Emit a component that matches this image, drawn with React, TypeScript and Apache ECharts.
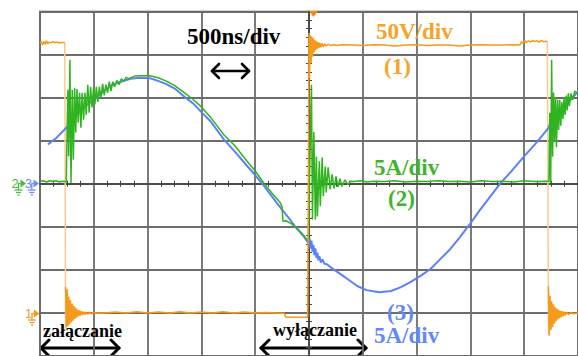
import React, { useEffect, useRef } from "react";
import * as echarts from "echarts";

// time axis in ns (500 ns/div), vertical axis in divisions
const timeRangeNs = [-2500, 2500];
const divRange = [-4, 4];

// Channel 1 (voltage, 50V/div), gap markers break the trace at the fast edges
const ch1Voltage: (number | string)[][] = [
  [-2500, 3.26], [-2488, 3.31], [-2476, 3.22], [-2464, 3.3], [-2452, 3.24], [-2440, 3.32], [-2428, 3.25], [-2416, 3.29],
  [-2400, 3.27], [-2380, 3.3], [-2360, 3.28], [-2340, 3.29], [-2320, 3.27], [-2300, 3.28], [-2280, 3.28], [-2270, 3.28],
  [-2266, "-"],
  [-2262, -2.4], [-2255, -3.33], [-2248, -2.45], [-2241, -3.3], [-2233, -2.62], [-2225, -3.27], [-2217, -2.7], [-2208, -3.22],
  [-2200, -2.78], [-2192, -3.18], [-2184, -2.84], [-2176, -3.14], [-2168, -2.88], [-2160, -3.11], [-2151, -2.92], [-2142, -3.08],
  [-2133, -2.94], [-2124, -3.06], [-2115, -2.96], [-2104, -3.05], [-2094, -2.97], [-2082, -3.04], [-2070, -2.98], [-2056, -3.03],
  [-2040, -2.98], [-2020, -3.02], [-2000, -2.99], [-1980, -3.0], [-1900, -3.0], [-1800, -2.98], [-1700, -3.0], [-1600, -2.97],
  [-1500, -3.0], [-1400, -2.98], [-1300, -3.0], [-1200, -2.97], [-1100, -3.0], [-1000, -2.98], [-900, -3.0], [-800, -2.97],
  [-700, -3.0], [-600, -2.98], [-500, -3.0], [-400, -2.99], [-300, -3.0], [-230, -3.01], [-215, -3.1], [-100, -3.1], [-12, -3.1],
  [0, 3.5], [5, 2.46], [12, 3.45], [19, 2.8], [26, 3.42], [33, 2.95], [40, 3.38], [47, 3.05], [54, 3.34], [61, 3.1], [68, 3.31],
  [76, 3.13], [84, 3.29], [92, 3.15], [100, 3.27], [110, 3.17], [120, 3.26], [132, 3.18], [145, 3.25], [160, 3.2], [180, 3.24],
  [200, 3.21], [230, 3.23], [260, 3.21], [300, 3.23], [400, 3.22], [500, 3.21], [600, 3.23], [700, 3.22], [800, 3.2], [900, 3.22],
  [1000, 3.23], [1100, 3.21], [1200, 3.22], [1300, 3.22], [1400, 3.2], [1500, 3.22], [1600, 3.23], [1700, 3.22], [1800, 3.22],
  [1900, 3.23], [1960, 3.22], [1975, 3.3], [1990, 3.26], [2005, 3.33], [2020, 3.28], [2040, 3.32], [2060, 3.29], [2080, 3.33],
  [2100, 3.3], [2120, 3.32], [2140, 3.29], [2160, 3.33], [2180, 3.3], [2200, 3.31], [2215, 3.3],
  [2220, "-"],
  [2225, -2.38], [2232, -3.53], [2240, -2.6], [2248, -3.4], [2256, -2.73], [2264, -3.33], [2272, -2.8], [2280, -3.25],
  [2288, -2.87], [2296, -3.2], [2304, -2.9], [2312, -3.15], [2320, -2.93], [2328, -3.12], [2336, -2.95], [2344, -3.1],
  [2352, -2.96], [2360, -3.08], [2370, -2.97], [2380, -3.06], [2395, -2.98], [2410, -3.04], [2430, -2.99], [2460, -3.02], [2500, -3.0],
];

// Channel 1 fast falling edges (drawn faint, as on the scope)
const ch1FastEdges: (number | string)[][] = [
  [-2270, 3.28], [-2262, -3.4], [0, "-"], [2215, 3.3], [2226, -3.5],
];

// Channel 2 (current, 5A/div)
const ch2Current: number[][] = [
  [-2500, 0.05], [-2470, 0.07], [-2440, 0.04], [-2410, 0.07], [-2380, 0.05], [-2350, 0.07], [-2320, 0.04], [-2290, 0.06], [-2262, 0.05],
  [-2256, 0.03], [-2248, 1.2], [-2241, 2.18], [-2233, 0.64], [-2222, 2.88], [-2212, 0.02], [-2200, 2.18], [-2190, 0.56], [-2178, 2.23],
  [-2168, 1.19], [-2156, 2.2], [-2145, 1.42], [-2132, 2.11], [-2120, 1.3], [-2108, 2.11], [-2095, 1.49], [-2082, 2.11], [-2070, 1.6],
  [-2056, 2.3], [-2043, 1.65], [-2030, 2.25], [-2016, 1.77], [-2003, 2.23], [-1990, 1.84], [-1976, 2.25], [-1962, 1.9], [-1948, 2.25],
  [-1934, 2.0], [-1918, 2.32], [-1903, 2.05], [-1888, 2.3], [-1872, 2.11], [-1856, 2.37], [-1840, 2.15], [-1824, 2.37], [-1806, 2.25],
  [-1786, 2.4], [-1765, 2.3], [-1744, 2.44], [-1722, 2.38], [-1700, 2.47], [-1677, 2.44],
  [-1620, 2.5], [-1568, 2.51], [-1476, 2.51], [-1403, 2.46], [-1330, 2.39], [-1248, 2.28], [-1157, 2.11], [-1075, 1.95], [-1002, 1.79],
  [-911, 1.53], [-792, 1.14], [-691, 0.89], [-581, 0.54], [-498, 0.29], [-416, 0.0], [-334, -0.25], [-270, -0.43], [-251, -0.53],
  [-242, -0.87], [-215, -0.86], [-169, -0.92], [-123, -1.01], [-59, -1.17], [-14, -1.31],
  [-4, -1.31], [5, 0.2], [23, 2.3], [32, -0.83], [45, 1.2], [59, -0.83], [69, 0.63], [78, -0.76], [96, 0.52], [105, -0.52], [123, 0.61],
  [133, -0.29], [151, 0.4], [160, -0.2], [178, 0.38], [197, -0.13], [215, 0.22], [233, -0.11], [251, 0.17], [270, -0.08], [288, 0.12],
  [306, -0.06], [334, 0.09], [361, -0.02], [389, 0.06],
  [420, 0.05], [480, 0.07], [540, 0.04], [600, 0.06], [700, 0.05], [800, 0.07], [900, 0.04], [1000, 0.06], [1100, 0.05], [1200, 0.07],
  [1300, 0.05], [1400, 0.06], [1500, 0.04], [1600, 0.07], [1700, 0.05], [1800, 0.06], [1900, 0.04], [2000, 0.07], [2100, 0.05],
  [2200, 0.06], [2230, 0.05],
  [2238, 1.65], [2246, 0.02], [2255, 2.88], [2264, 0.63], [2273, 2.12], [2282, 1.0], [2291, 2.0], [2300, 0.85], [2310, 1.95],
  [2320, 1.25], [2330, 1.95], [2340, 1.35], [2350, 1.9], [2360, 1.5], [2370, 2.0], [2380, 1.6], [2390, 2.05], [2400, 1.7],
  [2410, 2.1], [2420, 1.8], [2435, 2.1], [2450, 1.95], [2470, 2.15], [2500, 2.1],
];

// Channel 3 (current, 5A/div)
const ch3Current: number[][] = [
  [-2427, 0.91], [-2345, 1.07], [-2256, 1.3], [-2162, 1.6], [-2079, 1.81], [-1997, 1.95], [-1915, 2.13], [-1842, 2.28], [-1750, 2.37],
  [-1659, 2.44], [-1568, 2.46], [-1476, 2.45], [-1403, 2.39], [-1330, 2.32], [-1248, 2.21], [-1157, 2.02], [-1075, 1.86], [-1002, 1.67],
  [-911, 1.44], [-792, 1.03], [-691, 0.75], [-581, 0.43], [-507, 0.22], [-434, 0.0], [-352, -0.27], [-260, -0.57], [-187, -0.8],
  [-123, -1.01], [-59, -1.19], [-5, -1.38],
  [5, -1.25], [14, -1.5], [23, -1.32], [32, -1.58], [41, -1.42], [50, -1.66], [59, -1.5], [69, -1.72], [78, -1.6], [87, -1.78],
  [96, -1.68], [110, -1.83], [125, -1.76], [145, -1.86], [166, -1.87], [197, -1.93], [242, -2.01], [334, -2.17], [452, -2.38],
  [535, -2.47], [654, -2.52], [763, -2.49], [855, -2.4], [946, -2.28], [1037, -2.14], [1129, -1.98], [1220, -1.75], [1312, -1.52],
  [1403, -1.24], [1495, -0.94], [1586, -0.62], [1677, -0.32], [1778, 0.01], [1888, 0.31], [1997, 0.63], [2116, 0.96], [2226, 1.3],
  [2245, 1.42], [2262, 1.33], [2280, 1.5], [2299, 1.49], [2330, 1.6], [2363, 1.72], [2418, 1.91], [2500, 2.14],
];

const ORANGE = "#f59a1b";
const ORANGE_LIGHT = "#fcca8e";
const GREEN = "#2fb41f";
const BLUE = "#5b82f4";
const TXT_ORANGE = "#f6a428";
const TXT_GREEN = "#3fb52c";
const TXT_BLUE = "#628af2";
const SERIF = '"Liberation Serif", "Times New Roman", serif';

function dblArrow(x1: number, x2: number, y: number, head: number, w: number) {
  const st = { stroke: "#000", lineWidth: w, fill: null as any, lineCap: "round" as const, lineJoin: "round" as const };
  return {
    type: "group",
    children: [
      { type: "line", shape: { x1, y1: y, x2, y2: y }, style: st },
      { type: "polyline", shape: { points: [[x1 + head, y - head], [x1, y], [x1 + head, y + head]] }, style: st },
      { type: "polyline", shape: { points: [[x2 - head, y - head], [x2, y], [x2 - head, y + head]] }, style: st },
    ],
  };
}

function groundMarker(label: string, tx: number, ax: number, y: number, color: string) {
  return {
    type: "group",
    children: [
      { type: "text", x: tx, y, style: { text: label, font: '13px "Liberation Sans", sans-serif', fill: color, align: "center", verticalAlign: "middle" } },
      { type: "line", shape: { x1: tx + 3, y1: y, x2: ax, y2: y }, style: { stroke: color, lineWidth: 1.3 } },
      { type: "polygon", shape: { points: [[ax, y - 4], [ax + 5.5, y], [ax, y + 4]] }, style: { fill: color } },
      { type: "line", shape: { x1: tx + 3.5, y1: y, x2: tx + 3.5, y2: y + 6.5 }, style: { stroke: color, lineWidth: 1.3 } },
      { type: "line", shape: { x1: tx - 0.5, y1: y + 6.5, x2: tx + 7.5, y2: y + 6.5 }, style: { stroke: color, lineWidth: 1.3 } },
      { type: "line", shape: { x1: tx + 1, y1: y + 9, x2: tx + 6, y2: y + 9 }, style: { stroke: color, lineWidth: 1.3 } },
      { type: "line", shape: { x1: tx + 2.5, y1: y + 11.5, x2: tx + 4.5, y2: y + 11.5 }, style: { stroke: color, lineWidth: 1.3 } },
    ],
  };
}

function txt(text: string, x: number, y: number, size: number, color: string) {
  return {
    type: "text",
    x,
    y,
    z: 100,
    style: { text, font: `bold ${size}px ${SERIF}`, fill: color, align: "left", verticalAlign: "middle" },
  };
}

const gridLine = { color: "#6c6c6c", width: 1.8 };
const centerLine = { color: "#4a4a4a", width: 1.5 };

function xAxisDef(position: "top" | "bottom", split: boolean) {
  return {
    type: "value",
    min: timeRangeNs[0],
    max: timeRangeNs[1],
    interval: 500,
    position,
    axisLine: { show: true, onZero: true, lineStyle: centerLine },
    axisTick: { show: false },
    minorTick: { show: true, splitNumber: 4, length: 3, lineStyle: { color: "#444", width: 1 } },
    axisLabel: { show: false },
    splitLine: { show: split, lineStyle: gridLine },
    minorSplitLine: { show: false },
  };
}

function yAxisDef(position: "left" | "right", split: boolean) {
  return {
    type: "value",
    min: divRange[0],
    max: divRange[1],
    interval: 1,
    position,
    axisLine: { show: true, onZero: true, lineStyle: centerLine },
    axisTick: { show: false },
    minorTick: { show: true, splitNumber: 5, length: 3, lineStyle: { color: "#444", width: 1 } },
    axisLabel: { show: false },
    splitLine: { show: split, lineStyle: gridLine },
    minorSplitLine: { show: false },
  };
}

function lineSeries(name: string, data: any[], color: string, width: number, z: number) {
  return {
    name,
    type: "line",
    data,
    xAxisIndex: 0,
    yAxisIndex: 0,
    showSymbol: false,
    symbol: "none",
    connectNulls: false,
    lineStyle: { color, width },
    itemStyle: { color },
    z,
    silent: true,
  };
}

export default function App() {
  const ref = useRef<HTMLDivElement>(null);
  useEffect(() => {
    const chart = echarts.init(ref.current!, null, { renderer: "svg" });
    const option: any = {
      animation: false,
      backgroundColor: "#ffffff",
      grid: {
        left: 40,
        top: 11.5,
        width: 547,
        height: 345.6,
        show: true,
        borderColor: "#4a4a4a",
        borderWidth: 1.5,
        backgroundColor: "transparent",
      },
      xAxis: [xAxisDef("bottom", true), xAxisDef("top", false)],
      yAxis: [yAxisDef("left", true), yAxisDef("right", false)],
      series: [
        lineSeries("ch3", ch3Current, BLUE, 2, 3),
        lineSeries("ch2", ch2Current, GREEN, 1.5, 4),
        lineSeries("ch1edge", ch1FastEdges, ORANGE_LIGHT, 1.5, 2),
        lineSeries("ch1", ch1Voltage, ORANGE, 1.5, 5),
      ],
      graphic: [
        { type: "polygon", shape: { points: [[309, 11], [318, 11], [313.5, 17]] }, style: { fill: "#f28c14" }, z: 100 },
        txt("500ns/div", 187, 36, 23, "#000"),
        { ...dblArrow(212, 249, 71, 7, 2.6), z: 100 },
        txt("50V/div", 376, 31, 23, TXT_ORANGE),
        txt("(1)", 384, 66, 23, TXT_ORANGE),
        txt("5A/div", 374, 167, 23, TXT_GREEN),
        txt("(2)", 388, 198, 23, TXT_GREEN),
        txt("(3)", 387, 312, 23, TXT_BLUE),
        txt("5A/div", 374, 335, 23, TXT_BLUE),
        txt("załączanie", 43, 331, 18, "#000"),
        txt("wyłączanie", 273, 330, 18, "#000"),
        { ...dblArrow(41, 119, 348, 8, 3), z: 100 },
        { ...dblArrow(261, 366, 348, 8, 3), z: 100 },
        { ...groundMarker("1", 28.5, 34, 313.5, ORANGE), z: 100 },
        { ...groundMarker("2", 15, 20.5, 183.5, "#4cbb3c"), z: 100 },
        { ...groundMarker("3", 28.3, 33.5, 183.5, "#6b8ef5"), z: 100 },
      ],
    };
    chart.setOption(option);
    return () => chart.dispose();
  }, []);
  return (
    <div
      ref={ref}
      style={{ position: "fixed", left: 0, top: 0, width: 578, height: 356, background: "#fff" }}
    />
  );
}
